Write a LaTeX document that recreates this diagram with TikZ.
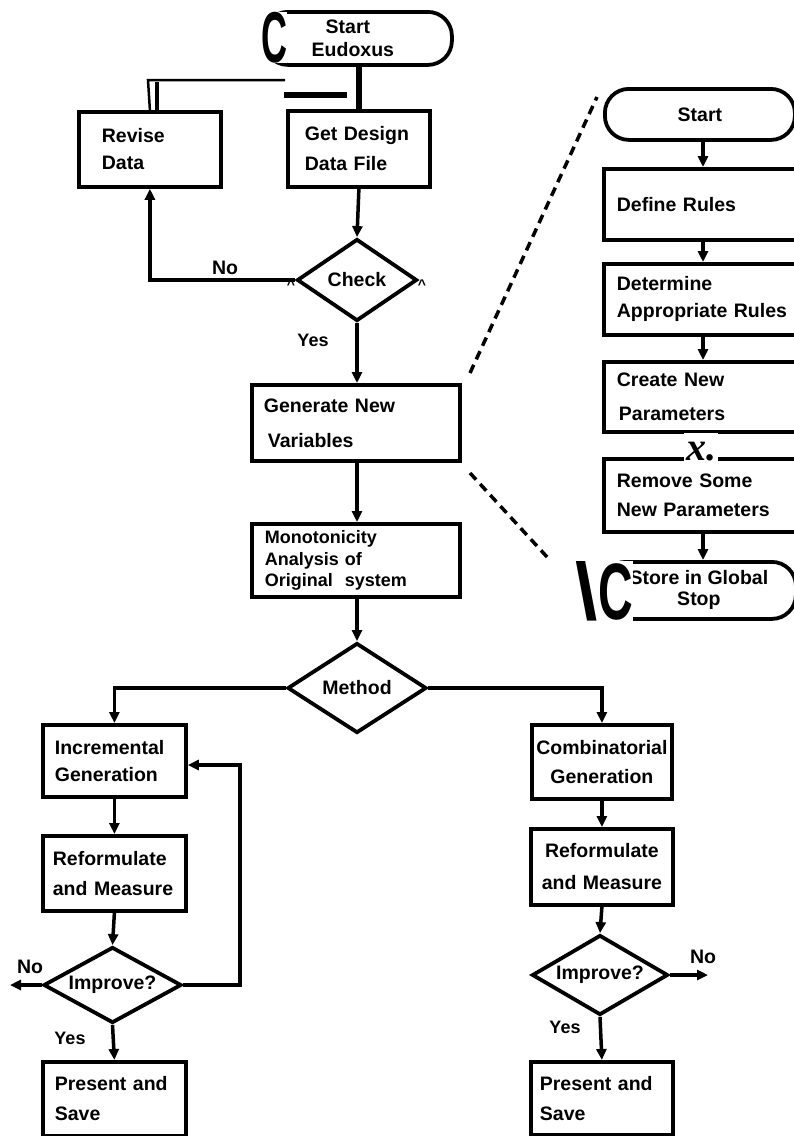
\documentclass[tikz,border=0pt]{standalone}
\usepackage{fontspec}
\setmainfont{Liberation Sans}
\newfontfamily\scanserif{Liberation Serif}
\usetikzlibrary{arrows.meta,shapes.geometric}
\begin{document}
\begin{tikzpicture}[x=1pt,y=-1pt,
  fs/.style 2 args={font=\bfseries\fontsize{#1}{#2}\selectfont},
  every node/.style={fs={19.5}{29}},
  box/.style={draw, line width=3.8pt, rectangle, anchor=north west, align=left, inner ysep=0pt},
  cbox/.style={box, align=center},
  pill/.style={draw, line width=3.8pt, rectangle, rounded corners=24pt, anchor=north west, align=center, inner sep=0pt},
  dia/.style={draw, line width=3.8pt, diamond, aspect=2, inner sep=0pt},
  arr/.style={line width=3.5pt, -{Triangle[length=11pt,width=10pt]}},
  conn/.style={line width=3.5pt},
  heavy/.style={line width=5.5pt},
  zoomline/.style={line width=3.5pt, dash pattern=on 9pt off 6pt},
  lbl/.style={inner sep=0pt},
  glyph/.style={inner sep=0pt, fill=white}
]
\path[use as bounding box] (0,0) rectangle (794,1136);
\clip (0,0) rectangle (794,1136);

% ---------- main column ----------
\node[pill, minimum width=188pt, minimum height=53pt, fs={19.5}{23}] (start) at (262,10) {\hspace*{-20pt}Start\\\hspace*{-10pt}Eudoxus};
\node[glyph, anchor=base] (bigC) at (274,62) {\fontsize{72}{72}\selectfont\scalebox{0.5}[1]{C}};

\node[box, text width=96pt, inner xsep=23pt, minimum height=75pt, fs={19.5}{27}] (revise) at (77,110) {Revise\\Data};
\node[box, text width=108pt, inner xsep=17pt, minimum height=76pt, fs={19.5}{30}] (getd) at (286,109) {Get Design\\Data File};
\node[dia, minimum width=120pt, minimum height=82pt] (check) at (357,280) {Check};
\node[box, text width=184pt, inner xsep=12pt, minimum height=76pt, fs={19.5}{35}] (gen) at (250,383) {Generate New\\\hspace*{4pt}Variables};
\node[box, text width=182pt, inner xsep=13pt, minimum height=73pt, fs={18}{21.5}] (mono) at (250,522) {Monotonicity\\Analysis of\\Original~~system};
\node[dia, minimum width=139pt, minimum height=90pt] (method) at (357,688) {Method};

% ---------- left column ----------
\node[box, text width=119pt, inner xsep=12pt, minimum height=72pt, fs={19.5}{27}] (inc) at (41,723) {Incremental\\Generation};
\node[box, text width=123pt, inner xsep=10pt, minimum height=75pt, fs={19.5}{30}] (reL) at (41,834) {Reformulate\\and Measure};
\node[dia, minimum width=138pt, minimum height=76pt] (impL) at (112.5,985) {Improve?};
\node[box, text width=119pt, inner xsep=12pt, minimum height=74pt, fs={19.5}{30}] (presL) at (41,1060) {Present and\\Save};

% ---------- right column ----------
\node[cbox, text width=132pt, inner xsep=4pt, minimum height=74pt, fs={19.5}{29}] (comb) at (530,723) {Combinatorial\\Generation};
\node[cbox, text width=134pt, inner xsep=4pt, minimum height=76pt, fs={19.5}{32}] (reR) at (529,827) {Reformulate\\and Measure};
\node[dia, minimum width=136pt, minimum height=80pt] (impR) at (600,975) {Improve?};
\node[box, text width=124pt, inner xsep=9pt, minimum height=73pt, fs={19.5}{30}] (presR) at (529,1060) {Present and\\Save};

% ---------- detail flow ----------
\node[pill, minimum width=190pt, minimum height=51pt] (start2) at (603,87) {Start};
\node[box, text width=202pt, inner xsep=13pt, minimum height=71pt] (define) at (602,167) {Define Rules};
\node[box, text width=202pt, inner xsep=13pt, minimum height=71pt, fs={19.5}{27}] (determ) at (602,262) {Determine\\Appropriate Rules};
\node[box, text width=202pt, inner xsep=13pt, minimum height=70pt, fs={19.5}{34}] (create) at (602,360) {Create New\\\hspace*{2pt}Parameters};
\node[box, text width=202pt, inner xsep=13pt, minimum height=73pt, fs={19.5}{29}] (remove) at (602,457) {Remove Some\\New Parameters};
\node[pill, minimum width=194pt, minimum height=57pt, fs={19.5}{21}] (store) at (600,560) {Store in Global\\Stop};

% ---------- coordinates ----------
\coordinate (rc) at (703,0);
\coordinate (rvTop) at (148,80);
\coordinate (rvEnd) at (285,80);
\coordinate (rvB1) at (157,82);
\coordinate (rvB2) at (157,110);
\coordinate (barA) at (284,95);
\coordinate (barB) at (347,95);
\coordinate (loopc) at (240,765);
\coordinate (noL) at (10,985);
\coordinate (noR) at (708,975);
\coordinate (d1a) at (470,373);
\coordinate (d1b) at (597,97);
\coordinate (d2a) at (470,473);
\coordinate (d2b) at (548,558);

% ---------- connectors ----------
\draw[heavy] (start.south -| getd.north) -- (getd.north);
\draw[line width=2.5pt] (revise.north) -- (rvTop) -- (rvEnd);
\draw[line width=4pt] (rvB1) -- (rvB2);
\draw[heavy] (barA) -- (barB);
\draw[arr] (getd.south) -- (check.north);
\draw[arr] (check.west) -| (revise.south);
\draw[arr] (check.south) -- (check.south |- gen.north);
\draw[arr] (check.south |- gen.south) -- (check.south |- mono.north);
\draw[arr] (method.north |- mono.south) -- (method.north);
\draw[arr] (method.west) -| (inc.north);
\draw[arr] (method.east) -| (comb.north);

\draw[arr] (inc.south) -- (reL.north);
\draw[arr] (reL.south) -- (impL.north);
\draw[arr] (impL.south) -- (presL.north);
\draw[arr] (impL.east) -| (loopc) -- (loopc -| inc.east);
\draw[arr] (impL.west) -- (noL);

\draw[arr] (comb.south) -- (reR.north);
\draw[arr] (reR.south) -- (impR.north);
\draw[arr] (impR.south) -- (presR.north);
\draw[arr] (impR.east) -- (noR);

\draw[arr] (start2.south -| rc) -- (define.north -| rc);
\draw[arr] (define.south -| rc) -- (determ.north -| rc);
\draw[arr] (determ.south -| rc) -- (create.north -| rc);
\draw[arr] (create.south -| rc) -- (remove.north -| rc);
\draw[arr] (remove.south -| rc) -- (store.north -| rc);

\draw[zoomline] (d1a) -- (d1b);
\draw[zoomline] (d2a) -- (d2b);

% ---------- labels ----------
\node[lbl] (lNo1) at (225,268) {No};
\node[lbl, fs={18}{18}] (lYes1) at (313,340) {Yes};
\node[lbl] (lNo2) at (30,967) {No};
\node[lbl, fs={18}{18}] (lYes2) at (70,1038) {Yes};
\node[lbl] (lNo3) at (703,957) {No};
\node[lbl, fs={18}{18}] (lYes3) at (565,1027) {Yes};

% ---------- scan marks ----------
\node[lbl, fs={14}{14}] (car1) at (291,285) {\textasciicircum};
\node[lbl, fs={14}{14}] (car2) at (422,285) {\textasciicircum};
\node[glyph, inner xsep=2pt, inner ysep=9pt, anchor=base west] (xdot) at (684,460) {\scanserif\bfseries\itshape\fontsize{40}{40}\selectfont x.};
\node[glyph, anchor=base east] (bsC) at (633,619) {\fontsize{80}{80}\selectfont\textbackslash\scalebox{0.6}[1]{C}};
\end{tikzpicture}
\end{document}
